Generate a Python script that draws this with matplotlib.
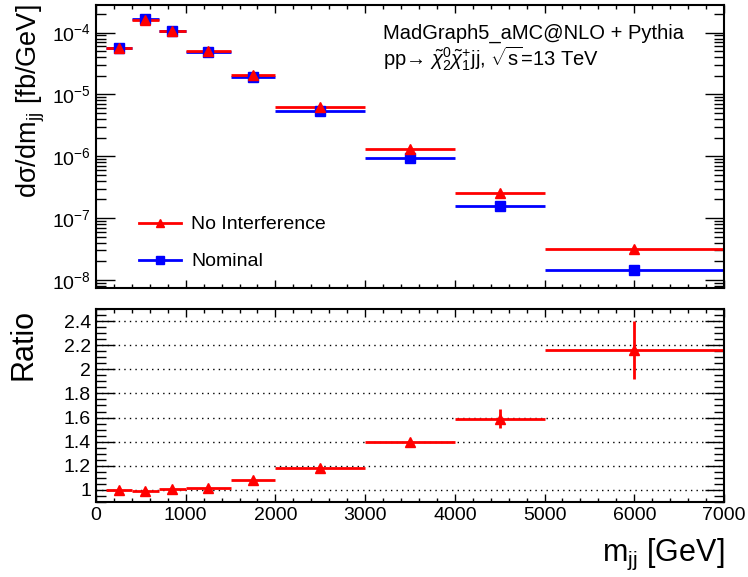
import numpy as np
import matplotlib
matplotlib.use("Agg")
from matplotlib import pyplot as plt
from matplotlib.lines import Line2D
from matplotlib.ticker import MultipleLocator, LogLocator, NullFormatter, FuncFormatter

plt.rcParams['font.family'] = ['Liberation Sans', 'DejaVu Sans']
plt.rcParams['mathtext.fontset'] = 'custom'
plt.rcParams['mathtext.rm'] = 'Liberation Sans'
plt.rcParams['mathtext.it'] = 'Liberation Sans:italic'
plt.rcParams['mathtext.sf'] = 'Liberation Sans'

# bin edges in m_jj [GeV]
edges = [115, 400, 700, 1000, 1500, 2000, 3000, 4000, 5000, 7000]
# dsigma/dm_jj [fb/GeV]
no_interf = [5.7e-5, 1.62e-4, 1.06e-4, 5.0e-5, 2.04e-5, 6.3e-6, 1.29e-6, 2.54e-7, 3.17e-8]
nominal = [5.7e-5, 1.65e-4, 1.05e-4, 4.9e-5, 1.9e-5, 5.3e-6, 9.2e-7, 1.59e-7, 1.45e-8]
# ratio no interference / nominal
ratio = [1.00, 0.99, 1.01, 1.02, 1.08, 1.18, 1.40, 1.59, 2.16]
ratio_err = [0.005, 0.005, 0.008, 0.01, 0.012, 0.015, 0.02, 0.08, 0.24]

edges = np.array(edges)
centers = 0.5 * (edges[:-1] + edges[1:])
halfw = 0.5 * (edges[1:] - edges[:-1])

red = '#ff0000'
blue = '#0000ff'

fig = plt.figure(figsize=(7.48, 5.77), dpi=100)
ax1 = fig.add_axes([0.1283, 0.5009, 0.8396, 0.4905])
ax2 = fig.add_axes([0.1283, 0.130, 0.8396, 0.3345])

ax1.errorbar(centers, nominal, xerr=halfw, fmt='s', color=blue, ms=7, lw=2, capsize=0)
ax1.errorbar(centers, no_interf, xerr=halfw, fmt='^', color=red, ms=7, lw=2, capsize=0)
ax1.set_yscale('log')
ax1.set_xlim(0, 7000)
ax1.set_ylim(7.4e-9, 2.8e-4)
ax1.set_ylabel('dσ/dm$_{\\mathregular{jj}}$ [fb/GeV]', fontsize=19.5, loc='top', labelpad=4)
ax1.tick_params(labelbottom=False)
ax1.yaxis.set_major_locator(LogLocator(base=10, numticks=15))
ax1.yaxis.set_minor_locator(LogLocator(base=10, subs=np.arange(2, 10), numticks=15))
ax1.yaxis.set_minor_formatter(NullFormatter())

ax1.text(0.457, 0.90, 'MadGraph5_aMC@NLO + Pythia', transform=ax1.transAxes,
         fontsize=14.5, va='center', ha='left')
ax1.text(0.457, 0.81, 'pp→ $\\tilde{\\chi}_{2}^{0}\\tilde{\\chi}_{1}^{+}$jj, $\\sqrt{\\mathregular{s}}$=13 TeV',
         transform=ax1.transAxes, fontsize=14.5, va='center', ha='left')

handles = [Line2D([], [], color=red, marker='^', ms=6, lw=2),
           Line2D([], [], color=blue, marker='s', ms=6, lw=2)]
ax1.legend(handles, ['No Interference', 'Nominal'], loc='lower left',
           bbox_to_anchor=(0.04, 0.0), frameon=False, fontsize=14,
           handlelength=2.2, labelspacing=1.0, handletextpad=0.5)

ax2.errorbar(centers, ratio, xerr=halfw, yerr=ratio_err, fmt='^', color=red,
             ms=7, lw=2, capsize=0)
ax2.set_xlim(0, 7000)
ax2.set_ylim(0.9, 2.5)
ax2.yaxis.set_major_locator(MultipleLocator(0.2))
ax2.yaxis.set_minor_locator(MultipleLocator(0.05))
ax2.yaxis.set_major_formatter(FuncFormatter(lambda v, p: ('%g' % round(v, 2)) if v >= 0.99 else ''))
ax2.grid(axis='y', which='major', color='black', linestyle=(0, (1, 3)), lw=1)
ax2.set_ylabel('Ratio', fontsize=22, loc='top', labelpad=18)
ax2.set_xlabel('m$_{\\mathregular{jj}}$ [GeV]', fontsize=22, loc='right', labelpad=9)

for ax in (ax1, ax2):
    ax.xaxis.set_major_locator(MultipleLocator(1000))
    ax.xaxis.set_minor_locator(MultipleLocator(200))
    ax.tick_params(which='both', direction='in', top=True, right=True, labelsize=14, width=1)
    ax.tick_params(axis='y', which='major', length=14)
    ax.tick_params(axis='y', which='minor', length=7)
    ax.tick_params(axis='x', which='major', length=6)
    ax.tick_params(axis='x', which='minor', length=3)
    for s in ax.spines.values():
        s.set_linewidth(1.5)

fig.savefig('out.png', dpi=100)
